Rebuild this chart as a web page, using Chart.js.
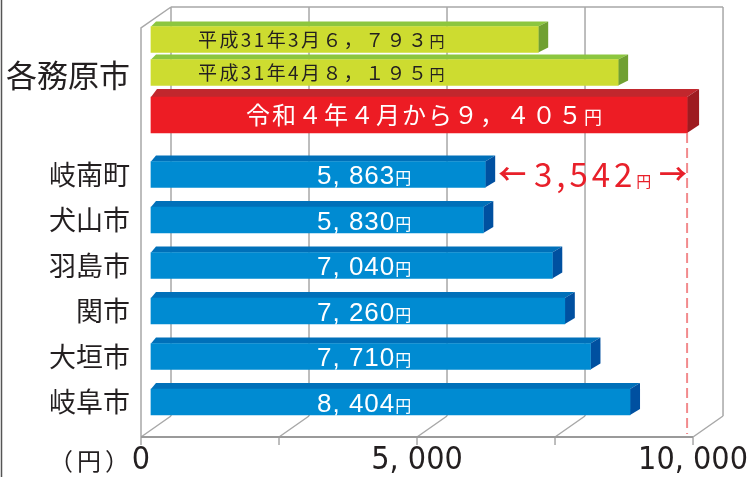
<!DOCTYPE html>
<html>
<head>
<meta charset="utf-8">
<script src="https://cdn.jsdelivr.net/npm/chart.js@4.4.1/dist/chart.umd.min.js"></script>
<style>
  html, body { margin: 0; padding: 0; background: #fff; }
</style>
</head>
<body>
<canvas id="myChart" width="748" height="477"></canvas>
<script>
// 各務原市（改定前後）
const kakamiPeriods = ['平成31年3月', '平成31年4月', '令和4年4月から'];
const kakamiFees = [6793, 8195, 9405];
// 近隣市町
const cities = ['岐南町', '犬山市', '羽島市', '関市', '大垣市', '岐阜市'];
const cityFees = [5863, 5830, 7040, 7260, 7710, 8404];
// 目盛
const xTicks = [0, 5000, 10000];
const gridValues = [0, 2500, 5000, 7500, 10000];

const JP = "'Noto Sans CJK JP', 'Noto Sans', sans-serif";
const NUM = "'Liberation Sans', Arial, sans-serif";
const NARROW = "'Liberation Sans Narrow', 'DejaVu Sans Condensed', sans-serif";

// rows: 3 rows for 各務原市 then one per city
const rowLabels = kakamiPeriods.map(() => '各務原市').concat(cities);
const greenData = rowLabels.map((_, i) => i < 2 ? kakamiFees[i] : null);
const redData = rowLabels.map((_, i) => i === 2 ? kakamiFees[2] : null);
const blueData = rowLabels.map((_, i) => i >= 3 ? cityFees[i - 3] : null);

// spacing between row centres (top pad, gaps, bottom pad)
const rowGaps = [32.5, 33, 42.5, 59.5, 45.5, 45.5, 45.5, 45.5, 45.5, 35];

class RowScale extends Chart.CategoryScale {
  getPixelForValue(value) {
    if (typeof value !== 'number') value = this.parse(value);
    if (value === null || isNaN(value)) return NaN;
    const total = rowGaps.reduce((a, b) => a + b, 0);
    let acc = 0;
    for (let i = 0; i <= value; i++) acc += rowGaps[i];
    return this.top + this.height * acc / total;
  }
  getPixelForTick(index) {
    const labels = this.getLabels();
    const name = labels[this.ticks[index].value];
    let sum = 0, n = 0;
    labels.forEach((l, i) => { if (l === name) { sum += this.getPixelForValue(i); n++; } });
    return sum / n;
  }
}
RowScale.id = 'rows';
RowScale.defaults = Chart.CategoryScale.defaults;
Chart.register(RowScale);

function fw(s) {
  return String(s).replace(/[0-9,]/g, c => String.fromCharCode(c.charCodeAt(0) + 0xFEE0));
}
function fmt(v) {
  return v.toLocaleString('en-US');
}

// depth of the fake 3D box
const DEPTH = { dx: 30, dy: -21 };

function drawParts(ctx, parts, x, baseline, align) {
  ctx.save();
  ctx.textBaseline = 'alphabetic';
  ctx.textAlign = 'left';
  const widths = parts.map(p => {
    ctx.font = p.font;
    ctx.letterSpacing = p.spacing || '0px';
    return ctx.measureText(p.text).width;
  });
  const total = widths.reduce((a, b) => a + b, 0);
  let cx = align === 'center' ? x - total / 2 : x;
  parts.forEach((p, i) => {
    ctx.font = p.font;
    ctx.letterSpacing = p.spacing || '0px';
    ctx.fillStyle = p.color;
    ctx.fillText(p.text, cx, baseline);
    cx += widths[i];
  });
  ctx.restore();
  return total;
}

const chart3d = {
  id: 'chart3d',
  beforeDatasetsDraw(chart) {
    const ctx = chart.ctx;
    const xf = chart.scales.xf;
    const area = chart.chartArea;
    const fy = area.bottom;
    const by = area.bottom + DEPTH.dy;
    const left = xf.getPixelForValue(0);
    const right = xf.getPixelForValue(10000);
    ctx.save();
    ctx.strokeStyle = '#a8a8a8';
    ctx.lineWidth = 1.5;
    ctx.beginPath();
    // back wall grid lines, floor diagonals, front tick marks
    gridValues.forEach(v => {
      const px = xf.getPixelForValue(v);
      ctx.moveTo(px + DEPTH.dx, area.top);
      ctx.lineTo(px + DEPTH.dx, by);
      ctx.moveTo(px, fy);
      ctx.lineTo(px + DEPTH.dx, by);
      ctx.moveTo(px, fy);
      ctx.lineTo(px, fy + 8);
    });
    ctx.moveTo(left + DEPTH.dx, area.top);
    ctx.lineTo(right + DEPTH.dx, area.top);
    ctx.moveTo(left, fy);
    ctx.lineTo(left, area.top - DEPTH.dy);
    ctx.lineTo(left + DEPTH.dx, area.top);
    ctx.stroke();
    ctx.strokeStyle = '#9a9a9a';
    ctx.lineWidth = 2;
    ctx.beginPath();
    ctx.moveTo(left, fy);
    ctx.lineTo(right, fy);
    ctx.stroke();

    // top and side faces of the bars
    chart.data.datasets.forEach((ds, di) => {
      const meta = chart.getDatasetMeta(di);
      meta.data.forEach((el, i) => {
        if (ds.data[i] === null) return;
        const { x, y, base, height } = el.getProps(['x', 'y', 'base', 'height'], true);
        const top = y - height / 2, bottom = y + height / 2;
        const dx = ds.depth.dx, dy = ds.depth.dy;
        ctx.fillStyle = ds.topColor;
        ctx.beginPath();
        ctx.moveTo(base, top);
        ctx.lineTo(base + dx * 0.5, top + dy);
        ctx.lineTo(x + dx, top + dy);
        ctx.lineTo(x, top);
        ctx.closePath();
        ctx.fill();
        ctx.fillStyle = ds.sideColor;
        ctx.beginPath();
        ctx.moveTo(x, top);
        ctx.lineTo(x + dx, top + dy);
        ctx.lineTo(x + dx, bottom + dy);
        ctx.lineTo(x, bottom);
        ctx.closePath();
        ctx.fill();
      });
    });
    ctx.restore();
  },
  afterDatasetsDraw(chart) {
    const ctx = chart.ctx;
    const area = chart.chartArea;
    const xs = chart.scales.x;
    const base = xs.getPixelForValue(0);
    const yen = (size, color) => ({ text: '円', font: `${size}px ${JP}`, color });

    // 各務原市 labels
    const green = chart.getDatasetMeta(0).data;
    [0, 1].forEach(i => {
      const el = green[i];
      drawParts(ctx, [
        { text: kakamiPeriods[i] + fw(fmt(kakamiFees[i])), font: `19px ${JP}`, color: '#231f20', spacing: '2.4px' },
        yen(15, '#231f20')
      ], base + 47, el.y + 7.5);
    });
    const redEl = chart.getDatasetMeta(1).data[2];
    drawParts(ctx, [
      { text: fw(kakamiPeriods[2]) + fw(fmt(kakamiFees[2])), font: `24px ${JP}`, color: '#ffffff', spacing: '2px' },
      yen(18, '#ffffff')
    ], base + 95, redEl.y + 9);
    // 他市町
    const blue = chart.getDatasetMeta(2).data;
    cityFees.forEach((v, k) => {
      const el = blue[k + 3];
      drawParts(ctx, [
        { text: fmt(v).replace(',', ', '), font: `26px ${NUM}`, color: '#ffffff', spacing: '1px' },
        yen(16, '#ffffff')
      ], base + 166, el.y + 9.5);
    });

    // dashed line at the new fee
    ctx.save();
    ctx.strokeStyle = '#f28b8d';
    ctx.lineWidth = 2;
    ctx.setLineDash([10, 5]);
    ctx.beginPath();
    ctx.moveTo(redEl.x, redEl.y + redEl.height / 2);
    ctx.lineTo(redEl.x, area.bottom - 3);
    ctx.stroke();
    ctx.restore();

    // difference annotation
    const first = blue[3];
    const diff = kakamiFees[2] - cityFees[0];
    const aL = first.x + 13;
    const aR = redEl.x;
    const ay = first.y;
    const red = '#e8202a';
    ctx.save();
    ctx.font = `bold 28px ${JP}`;
    ctx.fillStyle = red;
    ctx.textBaseline = 'alphabetic';
    ctx.textAlign = 'left';
    ctx.fillText('←', aL, ay + 10.5);
    ctx.textAlign = 'right';
    ctx.fillText('→', aR, ay + 10.5);
    ctx.restore();
    drawParts(ctx, [
      { text: fmt(diff), font: `33px ${JP}`, color: red, spacing: '4px' },
      yen(15, red)
    ], (aL + aR) / 2, ay + 12, 'center');

    // unit label
    ctx.save();
    ctx.font = `24px ${JP}`;
    ctx.letterSpacing = '4px';
    ctx.fillStyle = '#231f20';
    ctx.textAlign = 'right';
    ctx.textBaseline = 'middle';
    ctx.fillText('（円）', 133, 461);
    // left frame line
    ctx.strokeStyle = '#555';
    ctx.lineWidth = 1.5;
    ctx.beginPath();
    ctx.moveTo(1.5, 0);
    ctx.lineTo(1.5, chart.height);
    ctx.stroke();
    ctx.restore();
  }
};

new Chart(document.getElementById('myChart'), {
  type: 'bar',
  data: {
    labels: rowLabels,
    datasets: [
      { data: greenData, backgroundColor: '#cddc30', topColor: '#8cc63f', sideColor: '#70a032', barThickness: 26, depth: { dx: 10, dy: -5 }, grouped: false },
      { data: redData, backgroundColor: '#ed1c24', topColor: '#c1272d', sideColor: '#9e1b20', barThickness: 36, depth: { dx: 12, dy: -8 }, grouped: false },
      { data: blueData, backgroundColor: '#008bd2', topColor: '#0070b9', sideColor: '#0050a0', barThickness: 26, depth: { dx: 10, dy: -6 }, grouped: false }
    ]
  },
  options: {
    indexAxis: 'y',
    responsive: false,
    animation: false,
    layout: { padding: { top: 7, right: 25, left: 0, bottom: 0 } },
    plugins: { legend: { display: false }, tooltip: { enabled: false } },
    scales: {
      x: { type: 'linear', min: -175, max: 10035, display: false },
      xf: {
        type: 'linear', position: 'bottom', min: 0, max: 10543,
        grid: { display: false, drawTicks: false },
        border: { display: false },
        afterBuildTicks: s => { s.ticks = xTicks.map(v => ({ value: v })); },
        afterFit: s => { s.height = 40; s.paddingLeft = 0; s.paddingRight = 0; },
        ticks: {
          padding: 4,
          color: '#231f20',
          font: { family: NARROW, size: 32 },
          callback: v => fmt(v).replace(',', ', ')
        }
      },
      y: {
        type: 'rows',
        grid: { display: false, drawTicks: false },
        border: { display: false },
        afterFit: s => { s.width = 141; s.paddingTop = 0; s.paddingBottom = 0; },
        ticks: {
          autoSkip: false,
          padding: 11,
          color: '#231f20',
          font: c => ({ family: JP, size: c.index === 0 ? 31 : 27, weight: 'normal' }),
          callback(value) {
            const labels = this.getLabels();
            return labels.indexOf(labels[value]) === value ? labels[value] : '';
          }
        }
      }
    }
  },
  plugins: [chart3d]
});
</script>
</body>
</html>
